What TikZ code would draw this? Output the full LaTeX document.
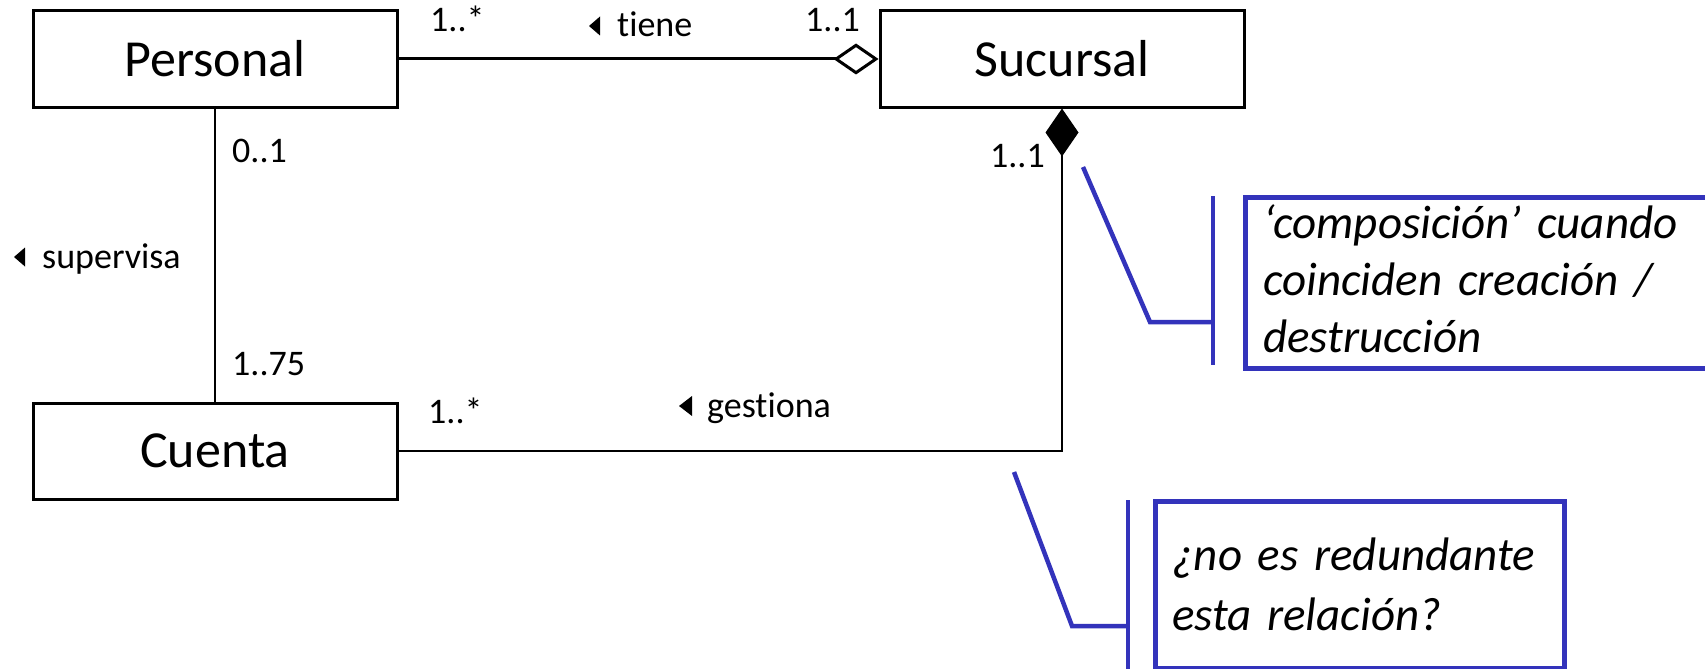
\documentclass[tikz,border=0pt]{standalone}
\usepackage{fontspec}
\setmainfont{Carlito}[Ligatures=NoCommon]
\usetikzlibrary{arrows.meta}
\definecolor{noteblue}{RGB}{51,51,187}
\begin{document}
\begin{tikzpicture}[x=1pt,y=-1pt,
  cls/.style={draw, line width=3pt, minimum width=364pt, minimum height=96pt, inner sep=0pt, font=\fontsize{52}{60}\selectfont},
  lbl/.style={inner sep=0pt, anchor=base west, font=\fontsize{36}{40}\selectfont},
  assoc/.style={line width=2pt},
  notebox/.style={draw=noteblue, line width=4.5pt, inner sep=0pt, anchor=north west},
  noteline/.style={draw=noteblue, line width=4.5pt},
  notetext/.style={inner sep=0pt, anchor=base west, align=left, text width=460pt, font=\itshape\fontsize{47}{57}\selectfont},
  dirtri/.style={fill=black}
]
\useasboundingbox (0,0) rectangle (1705,669);
% classes
\node[cls] (per) at (215,59) {Personal};
\node[cls] (suc) at (1062,59) {Sucursal};
\node[cls] (cue) at (215,451) {Cuenta};
% connectors
\draw[line width=3pt, -{Diamond[open, length=45pt, width=31pt, line width=3pt]}] (per.east) -- (suc.west);
\draw[assoc] (per.south) -- (cue.north);
\draw[assoc, -{Diamond[length=48pt, width=33pt]}] (cue.east) -| (suc.south);
% labels
\node[lbl] (m1) at (430,32) {1..*};
\node[lbl] (tiene) at (617,37) {tiene};
\node[lbl] (m2) at (805,32) {1..1};
\node[lbl] (m3) at (232,162) {0..1};
\node[lbl] (sup) at (42,268) {supervisa};
\node[lbl] (m4) at (232,375) {1..75};
\node[lbl] (m5) at (428,423) {1..*};
\node[lbl] (ges) at (707,417) {gestiona};
\node[lbl, anchor=base east] (m6) at (1045,167) {1..1};
% direction triangles
\fill[dirtri] ([xshift=-17pt,yshift=11pt]tiene.base west) -- ++(0pt,9.5pt) -- ++(-11pt,-9.5pt) -- ++(11pt,-9.5pt) -- cycle;
\fill[dirtri] ([xshift=-17pt,yshift=11pt]sup.base west) -- ++(0pt,9.5pt) -- ++(-11pt,-9.5pt) -- ++(11pt,-9.5pt) -- cycle;
\fill[dirtri] ([xshift=-15pt,yshift=11pt]ges.base west) -- ++(0pt,10pt) -- ++(-13pt,-10pt) -- ++(13pt,-10pt) -- cycle;
% callout 1
\node[notebox, minimum width=490pt, minimum height=171pt] (n1) at (1243,195) {};
\node[notetext] (t1) at (1263,238) {‘composición’ cuando\\coinciden creación /\\destrucción};
\coordinate (a1) at (1083,167);
\coordinate (k1) at (1150,322);
\coordinate (h1) at (1213,322);
\coordinate (b1t) at (1213,196);
\coordinate (b1b) at (1213,365);
\draw[noteline] (a1) -- (k1) -- (h1);
\draw[noteline] (b1t) -- (b1b);
% callout 2
\node[notebox, minimum width=409pt, minimum height=167pt] (n2) at (1153,499) {};
\node[notetext, font=\itshape\fontsize{47}{60}\selectfont] (t2) at (1172,570) {¿no es redundante\\esta relación?};
\coordinate (a2) at (1014,472);
\coordinate (k2) at (1072,626);
\coordinate (h2) at (1128,626);
\coordinate (b2t) at (1128,500);
\coordinate (b2b) at (1128,690);
\draw[noteline] (a2) -- (k2) -- (h2);
\draw[noteline] (b2t) -- (b2b);
\end{tikzpicture}
\end{document}
